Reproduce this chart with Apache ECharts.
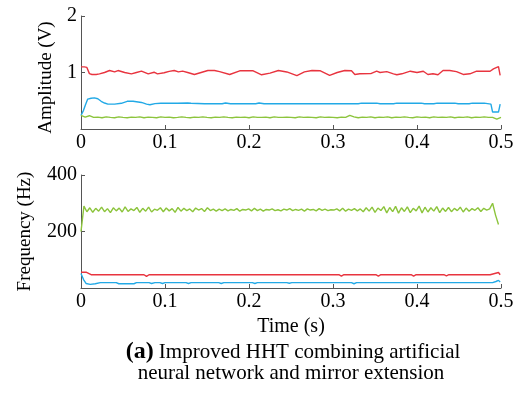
<!DOCTYPE html>
<html><head><meta charset="utf-8">
<script src="https://cdn.jsdelivr.net/npm/echarts@6/dist/echarts.min.js"></script>
<style>html,body{margin:0;padding:0;background:#fff}#c{width:518px;height:396px}</style>
</head><body><div id="c"></div>
<script>
// x tick labels (s)
const timeTicks = [0, 0.1, 0.2, 0.3, 0.4, 0.5];
// Amplitude (V) panel
const ampRed = [[0,1.10],[0.004,1.10],[0.007,1.09],[0.010,0.98],[0.013,0.965],[0.018,0.965],[0.022,0.975],[0.028,1.0],[0.034,1.035],[0.040,1.01],[0.044,1.035],[0.052,1.0],[0.060,0.975],[0.066,1.0],[0.072,1.025],[0.080,0.975],[0.087,1.005],[0.091,0.975],[0.099,0.995],[0.105,1.02],[0.111,1.035],[0.116,1.01],[0.121,1.025],[0.127,1.0],[0.135,0.965],[0.143,1.0],[0.151,1.035],[0.159,1.035],[0.165,1.015],[0.177,0.965],[0.189,1.03],[0.205,1.03],[0.215,0.96],[0.225,0.99],[0.235,1.035],[0.245,1.01],[0.257,0.945],[0.266,1.01],[0.275,1.035],[0.285,1.03],[0.296,0.95],[0.305,1.0],[0.314,1.035],[0.322,1.03],[0.326,0.965],[0.332,0.977],[0.345,0.98],[0.352,1.023],[0.356,1.0],[0.364,1.015],[0.372,0.977],[0.376,0.96],[0.382,0.977],[0.392,1.023],[0.400,1.0],[0.4075,1.023],[0.413,0.965],[0.419,0.977],[0.425,0.96],[0.431,1.035],[0.439,1.035],[0.447,1.015],[0.455,0.965],[0.463,0.977],[0.471,1.023],[0.487,1.023],[0.489,1.035],[0.491,1.065],[0.497,1.105],[0.499,0.95]];
const ampBlue = [[0,0.24],[0.003,0.33],[0.005,0.415],[0.008,0.53],[0.012,0.545],[0.016,0.55],[0.020,0.535],[0.024,0.49],[0.028,0.46],[0.032,0.44],[0.040,0.44],[0.048,0.455],[0.055,0.49],[0.062,0.49],[0.072,0.47],[0.078,0.44],[0.082,0.43],[0.088,0.45],[0.095,0.455],[0.115,0.457],[0.127,0.46],[0.131,0.457],[0.147,0.446],[0.168,0.446],[0.172,0.46],[0.178,0.446],[0.208,0.446],[0.212,0.46],[0.218,0.446],[0.330,0.446],[0.334,0.457],[0.352,0.457],[0.356,0.446],[0.372,0.446],[0.376,0.457],[0.405,0.457],[0.409,0.446],[0.420,0.446],[0.424,0.457],[0.445,0.457],[0.449,0.446],[0.462,0.446],[0.466,0.457],[0.480,0.457],[0.488,0.44],[0.490,0.30],[0.497,0.30],[0.499,0.44]];
const ampGreenStep = 0.005;
const ampGreen = [0.24,0.21,0.235,0.205,0.21,0.20,0.215,0.205,0.20,0.215,
0.205,0.20,0.21,0.205,0.215,0.20,0.21,0.205,0.20,0.215,
0.205,0.21,0.20,0.205,0.215,0.205,0.20,0.21,0.205,0.215,
0.205,0.20,0.21,0.205,0.215,0.205,0.20,0.21,0.205,0.21,
0.20,0.215,0.205,0.205,0.21,0.20,0.215,0.205,0.205,0.21,
0.205,0.20,0.215,0.205,0.21,0.205,0.20,0.215,0.205,0.21,
0.205,0.20,0.21,0.205,0.24,0.215,0.20,0.21,0.205,0.215,
0.20,0.21,0.205,0.215,0.20,0.21,0.205,0.215,0.205,0.20,
0.215,0.205,0.21,0.20,0.215,0.205,0.21,0.205,0.215,0.20,
0.21,0.205,0.215,0.20,0.21,0.205,0.215,0.205,0.205,0.175,0.205];
// Frequency (Hz) panel
const freqGreenStep = 0.0035;
const freqGreen = [200,290,270,284,268,282,272,286,270,281,267,284,273,283,269,287,271,280,274,285,268,282,272,286,269,279,275,284,270,283,273,281,268,285,272,282,274,280,270,283,276,281,271,284,274,279,272,
279,274,280,273,278,275,281,272,278,276,280,273,282,274,279,272,278,276,280,274,277,273,279,276,281,274,278,275,279,272,280,276,278,273,281,275,279,274,277,276,280,273,282,272,279,275,281,273,
280,270,284,272,286,268,283,274,288,266,285,270,289,265,284,271,287,267,282,273,290,266,286,269,284,272,288,267,283,271,285,270,282,274,286,269,283,272,281,275,284,271,282,276,280,
300,258,225];
const freqRed = [[0,56],[0.006,56],[0.012,47],[0.075,47],[0.078,41],[0.081,47],[0.307,47],[0.310,42],[0.313,47],[0.351,47],[0.354,42],[0.357,47],[0.393,47],[0.396,42],[0.399,47],[0.432,47],[0.435,43],[0.438,47],[0.487,47],[0.489,54],[0.497,55],[0.499,47]];
const freqBlue = [[0,51],[0.003,30],[0.006,16],[0.011,13],[0.017,15],[0.023,19],[0.042,19],[0.045,15],[0.063,15],[0.066,19],[0.081,19],[0.084,16],[0.088,19],[0.094,19],[0.097,16],[0.100,19],[0.125,19],[0.128,16],[0.131,19],[0.164,19],[0.167,16],[0.170,19],[0.204,19],[0.207,16],[0.210,19],[0.245,19],[0.248,17],[0.251,19],[0.322,19],[0.325,15],[0.328,19],[0.490,19],[0.494,23],[0.497,27],[0.499,21]];
const ampTicks = [1, 2];
const freqTicks = [200, 400];

const RED = '#e8343f', BLUE = '#22a9e6', GREEN = '#8cc43c', AX = '#555';
const FONT = 'Liberation Serif';
const stepped = (arr, step) => arr.map((v, i) => [+(i * step).toFixed(4), v]);

function xAxis(gi, showName) {
  return {
    type: 'value', gridIndex: gi, min: 0, max: 0.5, interval: 0.1,
    axisLine: { lineStyle: { color: AX, width: 1 } },
    axisTick: { inside: true, length: 4, lineStyle: { color: AX } },
    splitLine: { show: false },
    axisLabel: { color: '#000', fontFamily: FONT, fontSize: 20, margin: 4,
      formatter: v => timeTicks.includes(+v.toFixed(1)) ? String(+v.toFixed(1)) : '' },
    name: showName ? 'Time (s)' : '', nameLocation: 'middle', nameGap: 29,
    nameTextStyle: { color: '#000', fontFamily: FONT, fontSize: 20 }
  };
}
function yAxis(gi, max, interval, ticks, name, gap, pad) {
  return {
    type: 'value', gridIndex: gi, min: 0, max: max, interval: interval,
    axisLine: { show: true, lineStyle: { color: AX, width: 1 } },
    axisTick: { show: true, inside: true, length: 4, lineStyle: { color: AX } },
    splitLine: { show: false },
    axisLabel: { color: '#000', fontFamily: FONT, fontSize: 20, margin: 4,
      formatter: v => ticks.includes(v) ? String(v) : '' },
    name: name, nameLocation: 'middle', nameGap: gap,
    nameTextStyle: { color: '#000', fontFamily: FONT, fontSize: 19, padding: pad }
  };
}
const line = (xi, data, color) => ({
  type: 'line', xAxisIndex: xi, yAxisIndex: xi, data: data, showSymbol: false,
  symbol: 'none', lineStyle: { color: color, width: 1.4 }, animation: false, silent: true
});

const chart = echarts.init(document.getElementById('c'), null, { renderer: 'canvas' });
chart.setOption({
  backgroundColor: '#fff',
  animation: false,
  grid: [
    { left: 81, top: 16, width: 420, height: 113 },
    { left: 81, top: 175, width: 420, height: 113 }
  ],
  xAxis: [xAxis(0, false), xAxis(1, true)],
  yAxis: [yAxis(0, 2, 1, ampTicks, 'Amplitude (V)', 25, [0, 10, 0, 0]), yAxis(1, 400, 200, freqTicks, 'Frequency (Hz)', 46, 0)],
  series: [
    line(0, ampRed, RED),
    line(0, ampBlue, BLUE),
    line(0, stepped(ampGreen, ampGreenStep), GREEN),
    line(1, stepped(freqGreen, freqGreenStep), GREEN),
    line(1, freqRed, RED),
    line(1, freqBlue, BLUE)
  ],
  graphic: [
    { type: 'text', x: 293, y: 352, style: {
      text: '{b|(a)}{n| Improved HHT combining artificial}', align: 'center', verticalAlign: 'middle',
      rich: { b: { fontFamily: FONT, fontSize: 24, fontWeight: 'bold', fill: '#000' },
              n: { fontFamily: FONT, fontSize: 21, fill: '#000' } } } },
    { type: 'text', x: 291, y: 373, style: {
      text: 'neural network and mirror extension', align: 'center', verticalAlign: 'middle',
      fontFamily: FONT, fontSize: 21, fill: '#000' } }
  ]
});
</script></body></html>
